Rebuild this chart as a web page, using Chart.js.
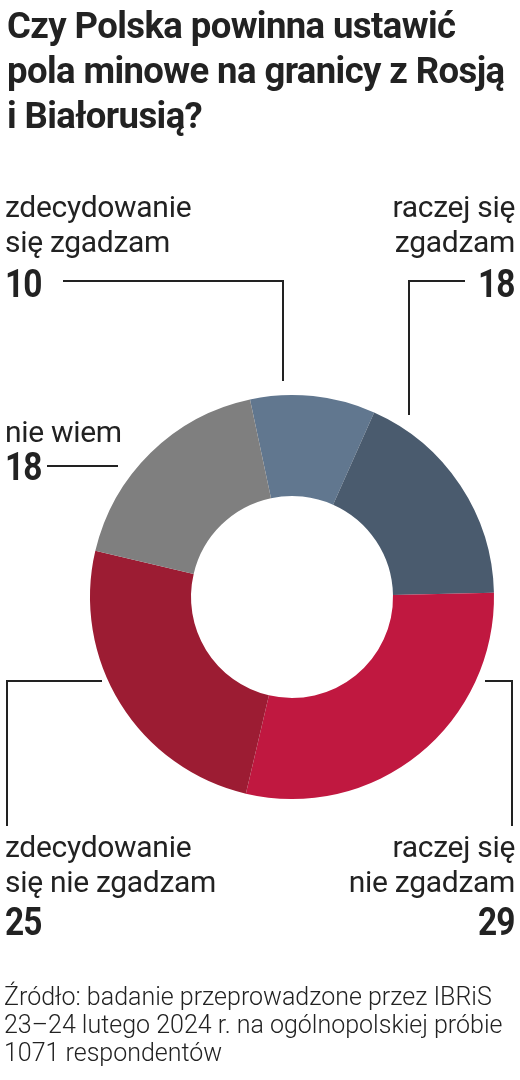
<!DOCTYPE html>
<html lang="pl">
<head>
<meta charset="utf-8">
<script src="https://cdn.jsdelivr.net/npm/chart.js@4"></script>
<style>
  html, body { margin: 0; padding: 0; background: #fff; }
  body { width: 520px; height: 1080px; position: relative; overflow: hidden; color: #222; font-family: Roboto, sans-serif; }
  #chart { position: absolute; left: 0; top: 0; }
  .t { position: absolute; white-space: nowrap; }
  .title { left: 7px; top: 3px; font-size: 36.5px; line-height: 45px; font-weight: 700; letter-spacing: -0.6px; }
  .lab { font-size: 30px; line-height: 35px; font-weight: 400; letter-spacing: -0.3px; }
  .num { font-size: 38px; line-height: 38px; font-weight: 700; letter-spacing: -1px; transform: scaleX(0.88); }
  .r { text-align: right; right: 5px; }
  .l { left: 5px; }
  .num.l { transform-origin: left center; }
  .num.r { transform-origin: right center; }
  .src { left: 4px; top: 983px; font-size: 25px; line-height: 28px; font-weight: 300; }
</style>
</head>
<body>
<canvas id="chart" width="520" height="1080"></canvas>

<div class="t title">Czy Polska powinna ustawić<br>pola minowe na granicy z Rosją<br>i Białorusią?</div>

<div class="t lab l" style="top:189px">zdecydowanie<br>się zgadzam</div>
<div class="t num l" id="n0" style="top:265px"></div>

<div class="t lab r" style="top:189px">raczej się<br>zgadzam</div>
<div class="t num r" id="n1" style="top:265px"></div>

<div class="t lab l" style="top:414px">nie wiem</div>
<div class="t num l" id="n4" style="top:448px"></div>

<div class="t lab l" style="top:829px">zdecydowanie<br>się nie zgadzam</div>
<div class="t num l" id="n3" style="top:903px"></div>

<div class="t lab r" style="top:829px">raczej się<br>nie zgadzam</div>
<div class="t num r" id="n2" style="top:903px"></div>

<div class="t src">Źródło: badanie przeprowadzone przez IBRiS<br>23–24 lutego 2024 r. na ogólnopolskiej próbie<br>1071 respondentów</div>

<script>
// answers, clockwise from the top
const labels = ['zdecydowanie się zgadzam', 'raczej się zgadzam', 'raczej się nie zgadzam', 'zdecydowanie się nie zgadzam', 'nie wiem'];
const values = [10, 18, 29, 25, 18];
const colors = ['#61778f', '#4a5b6e', '#c01840', '#9c1c33', '#7f7f7f'];

// numbers next to the labels
values.forEach(function (v, i) {
    document.getElementById('n' + i).textContent = v;
});

// leader lines from the labels to the ring
const leaders = {
    id: 'leaders',
    afterDraw(chart) {
        const ctx = chart.ctx;
        const paths = [
            [[63, 281], [283, 281], [283, 381]],
            [[465, 281], [409, 281], [409, 415]],
            [[47, 466], [118, 466]],
            [[102, 681], [7, 681], [7, 826]],
            [[485, 681], [512, 681], [512, 826]]
        ];
        ctx.save();
        ctx.strokeStyle = '#222';
        ctx.lineWidth = 2;
        paths.forEach(function (p) {
            ctx.beginPath();
            ctx.moveTo(p[0][0], p[0][1]);
            for (let k = 1; k < p.length; k++) ctx.lineTo(p[k][0], p[k][1]);
            ctx.stroke();
        });
        ctx.restore();
    }
};

new Chart(document.getElementById('chart'), {
    type: 'doughnut',
    data: {
        labels: labels,
        datasets: [{
            data: values,
            backgroundColor: colors,
            borderWidth: 0
        }]
    },
    options: {
        responsive: false,
        animation: false,
        rotation: -12,
        cutout: '50%',
        layout: { padding: { left: 90, right: 26, top: 395, bottom: 281 } },
        plugins: {
            legend: { display: false },
            tooltip: { enabled: false }
        }
    },
    plugins: [leaders]
});
</script>
</body>
</html>
